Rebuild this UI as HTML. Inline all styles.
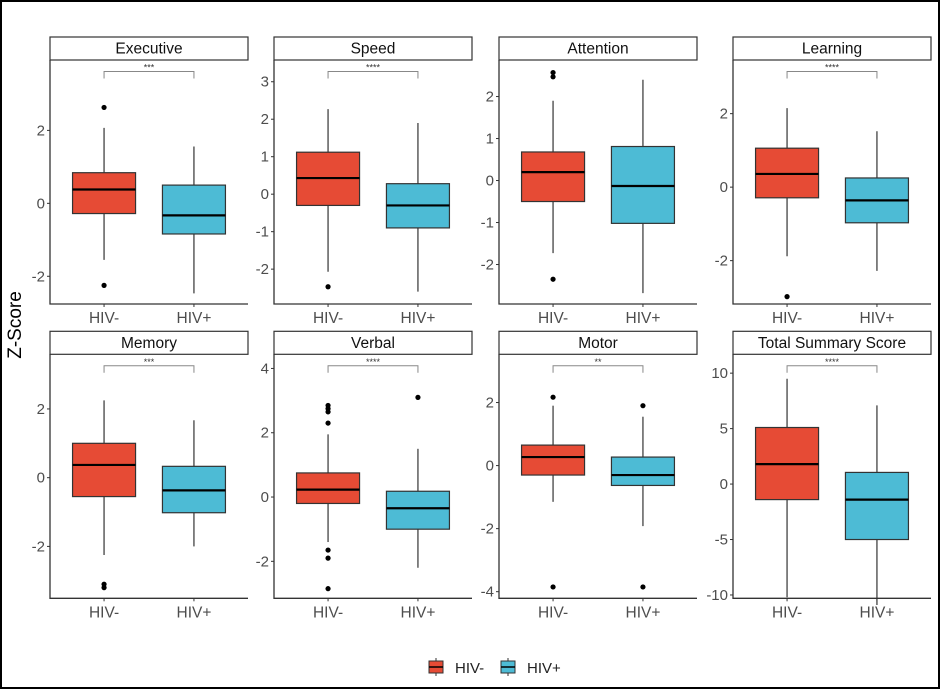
<!DOCTYPE html>
<html><head><meta charset="utf-8">
<style>
html,body{margin:0;padding:0;background:#fff;}
body{width:940px;height:690px;overflow:hidden;font-family:"Liberation Sans",Arial,sans-serif;}
</style></head>
<body>
<svg id="chart" width="940" height="690" viewBox="0 0 940 690" xmlns="http://www.w3.org/2000/svg" font-family="Liberation Sans, Arial, sans-serif">
<rect x="1" y="1" width="938" height="687" fill="#fff" stroke="#000" stroke-width="2"/>
<text transform="translate(21,325) rotate(-90)" text-anchor="middle" font-size="19" fill="#000">Z-Score</text>
<g>
<line x1="436" y1="658" x2="436" y2="676" stroke="#333" stroke-width="1"/>
<rect x="429" y="661" width="14" height="12" fill="#E64B35" stroke="#333" stroke-width="1"/>
<line x1="429" y1="667" x2="443" y2="667" stroke="#000" stroke-width="1.5"/>
<text x="455" y="673" font-size="15" fill="#222">HIV-</text>
<line x1="508" y1="658" x2="508" y2="676" stroke="#333" stroke-width="1"/>
<rect x="501" y="661" width="14" height="12" fill="#4DBBD5" stroke="#333" stroke-width="1"/>
<line x1="501" y1="667" x2="515" y2="667" stroke="#000" stroke-width="1.5"/>
<text x="527" y="673" font-size="15" fill="#222">HIV+</text>
</g>
</svg>
<script>
const panelTitles = ["Executive","Speed","Attention","Learning","Memory","Verbal","Motor","Total Summary Score"];
const groups = ["HIV-","HIV+"];
const yMin = [-2.76,-2.93,-2.94,-3.18,-3.51,-3.15,-4.21,-10.3];
const yMax = [3.93,3.58,2.87,3.46,3.59,4.44,3.53,11.7];
const yTicks = [[-2,0,2],[-2,-1,0,1,2,3],[-2,-1,0,1,2],[-2,0,2],[-2,0,2],[-2,0,2,4],[-4,-2,0,2],[-10,-5,0,5,10]];
const sigLabels = ["***","****","","****","***","****","**","****"];
// [lowWhisker, q1, median, q3, highWhisker] per panel per group
const negStats = [[-1.55,-0.28,0.38,0.84,2.07],[-2.07,-0.3,0.43,1.12,2.27],[-1.73,-0.5,0.2,0.68,1.9],[-1.88,-0.29,0.36,1.06,2.15],[-2.25,-0.55,0.37,1.0,2.25],[-1.4,-0.2,0.23,0.75,1.95],[-1.15,-0.3,0.27,0.65,1.9],[-10.2,-1.4,1.8,5.1,9.5]];
const posStats = [[-2.47,-0.84,-0.33,0.5,1.56],[-2.6,-0.9,-0.3,0.28,1.9],[-2.68,-1.02,-0.13,0.81,2.4],[-2.28,-0.97,-0.36,0.25,1.52],[-2.0,-1.02,-0.37,0.33,1.67],[-2.2,-1.0,-0.35,0.18,1.5],[-1.92,-0.63,-0.3,0.27,1.55],[-10.9,-5.0,-1.4,1.05,7.1]];
const negOutliers = [[2.63,-2.25],[-2.47],[2.57,2.47,-2.35],[-2.98],[-3.1,-3.2],[2.85,2.75,2.65,2.3,-1.65,-1.9,-2.85],[2.17,-3.85],[]];
const posOutliers = [[],[],[],[],[],[3.1],[1.9,-3.85],[]];

const svg = document.getElementById('chart');
const NS = "http://www.w3.org/2000/svg";
function mk(tag, attrs, parent){const e=document.createElementNS(NS,tag);for(const k in attrs)e.setAttribute(k,attrs[k]);(parent||svg).appendChild(e);return e;}
const colX = [50,274,499,733];
const PW = 198;
const rowTop = [60,354.3];
const PH = 244;
const fills = ["#E64B35","#4DBBD5"];
const statsAll = [negStats,posStats];
const outAll = [negOutliers,posOutliers];

panelTitles.forEach((title,i)=>{
  const x0 = colX[i%4], top = rowTop[Math.floor(i/4)], bot = top+PH;
  const ys = v => bot - (v - yMin[i])/(yMax[i]-yMin[i])*PH;
  const xs = g => x0 + PW*(g===0?0.273:0.727);
  const g = mk('g',{});
  
  
  const strip = mk('rect',{x:x0,y:top-23,width:PW,height:23,fill:'#fff',stroke:'#333','stroke-width':1.2},g);
  
  
  const st = mk('text',{x:x0+PW/2,y:top-6.5,'text-anchor':'middle','font-size':15.5,fill:'#111'},g);
  st.textContent = title;
  
  
  const ax = mk('path',{d:`M${x0},${top} V${bot} H${x0+PW}`,fill:'none',stroke:'#333','stroke-width':1.3},g);
  
  
  yTicks[i].forEach(t=>{
    const y = ys(t);
    mk('line',{x1:x0-3,x2:x0,y1:y,y2:y,stroke:'#333','stroke-width':1},g);
    const tl = mk('text',{x:x0-5,y:y+5,'text-anchor':'end','font-size':15,fill:'#4d4d4d'},g);
    tl.textContent = t;
    
    
  });
  groups.forEach((gn,gi)=>{
    const cx = xs(gi);
    mk('line',{x1:cx,x2:cx,y1:bot,y2:bot+3,stroke:'#333','stroke-width':1},g);
    const xl = mk('text',{x:cx,y:bot+19,'text-anchor':'middle','font-size':15.5,fill:'#4d4d4d'},g);
    xl.textContent = gn;
    
    
    const s = statsAll[gi][i];
    const w = mk('line',{x1:cx,x2:cx,y1:ys(s[0]),y2:ys(s[4]),stroke:'#333','stroke-width':1.2},g);
    
    
    const b = mk('rect',{x:cx-31.5,y:ys(s[3]),width:63,height:ys(s[1])-ys(s[3]),fill:fills[gi],stroke:'#333','stroke-width':1.2},g);
    
    
    const m = mk('line',{x1:cx-31.5,x2:cx+31.5,y1:ys(s[2]),y2:ys(s[2]),stroke:'#000','stroke-width':2.2},g);
    
    
    outAll[gi][i].forEach(o=>{
      const c = mk('circle',{cx:cx,cy:ys(o),r:2.6,fill:'#000'},g);
      
      
    });
  });
  if(sigLabels[i]){
    const by = top+11.5, x1 = xs(0), x2 = xs(1);
    const br = mk('path',{d:`M${x1},${by+7} V${by} H${x2} V${by+7}`,fill:'none',stroke:'#888','stroke-width':1},g);
    
    
    const sl = mk('text',{x:(x1+x2)/2,y:by-1,'text-anchor':'middle','font-size':9,fill:'#333'},g);
    sl.textContent = sigLabels[i];
    
    
  }
});
</script>
</body></html>
